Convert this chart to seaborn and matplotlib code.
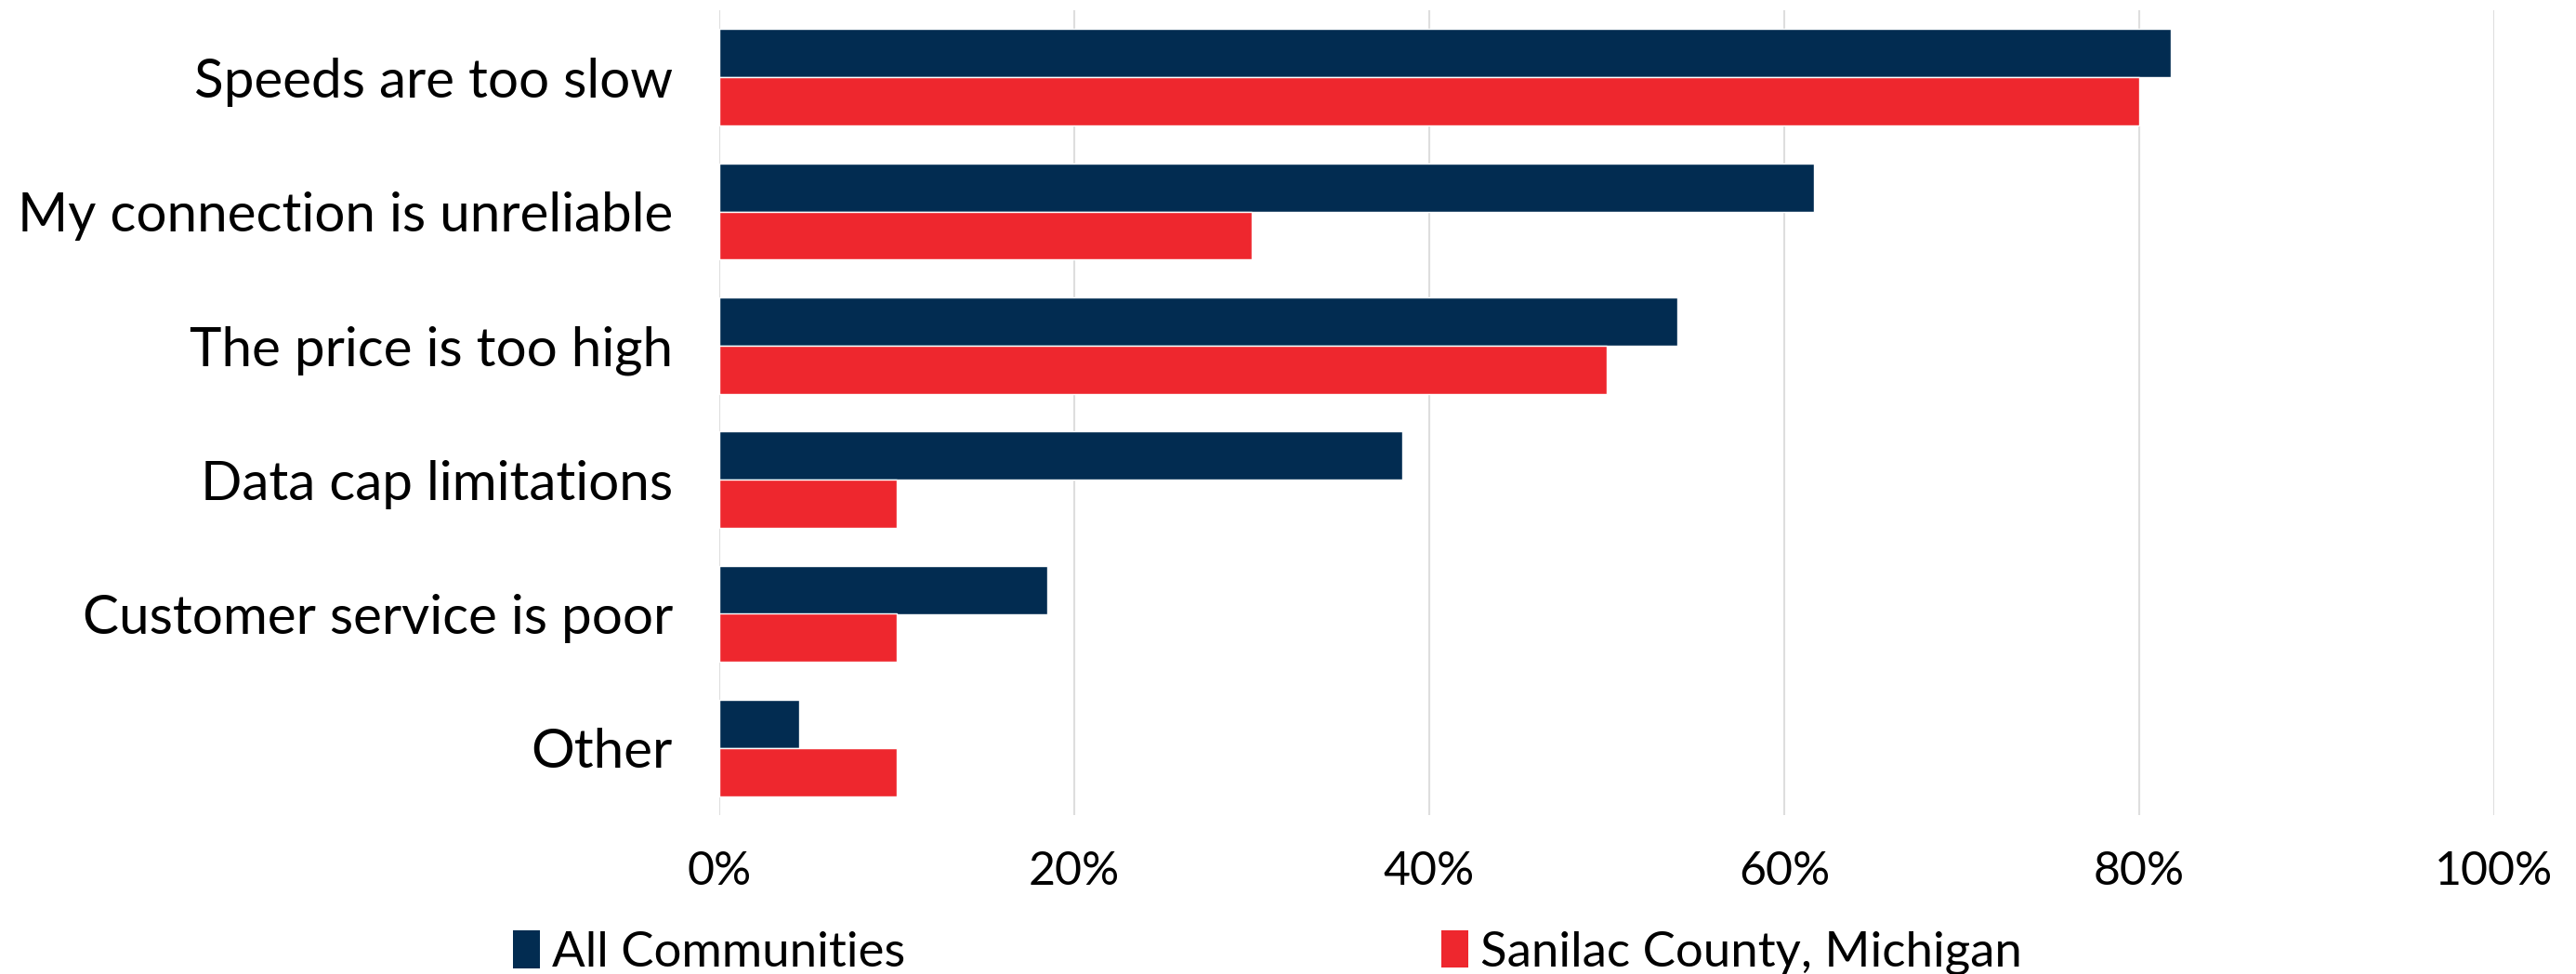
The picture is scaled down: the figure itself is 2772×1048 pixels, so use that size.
import numpy as np
import pandas as pd
import matplotlib
matplotlib.use('Agg')
import matplotlib.pyplot as plt
import seaborn as sns
from matplotlib.ticker import PercentFormatter
from matplotlib.patches import Patch

# --- Data ---
categories = ['Speeds are too slow', 'My connection is unreliable',
              'The price is too high', 'Data cap limitations',
              'Customer service is poor', 'Other']
all_communities = [0.818, 0.617, 0.540, 0.385, 0.185, 0.045]
sanilac = [0.80, 0.30, 0.50, 0.10, 0.10, 0.10]
series_names = ['All Communities', 'Sanilac County, Michigan']
colors = ['#022C51', '#EE272E']

df = pd.DataFrame({
    'reason': categories * 2,
    'share': all_communities + sanilac,
    'group': [series_names[0]] * len(categories) + [series_names[1]] * len(categories),
})

sns.set_theme(style='white')
plt.rcParams['font.family'] = ['Lato', 'DejaVu Sans']
plt.rcParams['text.color'] = 'black'

fig = plt.figure(figsize=(27.72, 10.48), dpi=100)
ax = fig.add_axes([774 / 2772, 1 - 877 / 1048, (2684 - 774) / 2772, 866 / 1048])

sns.barplot(data=df, y='reason', x='share', hue='group', order=categories,
            hue_order=series_names, palette=colors, width=0.72,
            saturation=1, legend=False, ax=ax)

ax.set_xlim(0, 1.0)
ax.set_ylim(5.5, -0.5)
ax.set_xticks(np.arange(0, 1.01, 0.2))
ax.xaxis.set_major_formatter(PercentFormatter(1.0, decimals=0))
ax.grid(axis='x', color='#dedede', linewidth=1.5)
ax.set_axisbelow(True)
for s in ax.spines.values():
    s.set_visible(False)
ax.set_xlabel('')
ax.set_ylabel('')
ax.tick_params(axis='x', length=0, pad=27, labelsize=36, labelcolor='black')
ax.tick_params(axis='y', length=0, pad=36, labelsize=42, labelcolor='black')

# two legend entries placed where the reference has them
for i, x0 in enumerate([552, 1551]):
    fig.legend([Patch(facecolor=colors[i], edgecolor='none')], [series_names[i]],
               loc='center left', bbox_to_anchor=(x0 / 2772, 0.022),
               frameon=False, fontsize=38, handlelength=0.55, handleheight=0.8,
               handletextpad=0.25, borderaxespad=0, borderpad=0)

fig.savefig('out.png', dpi=100)
